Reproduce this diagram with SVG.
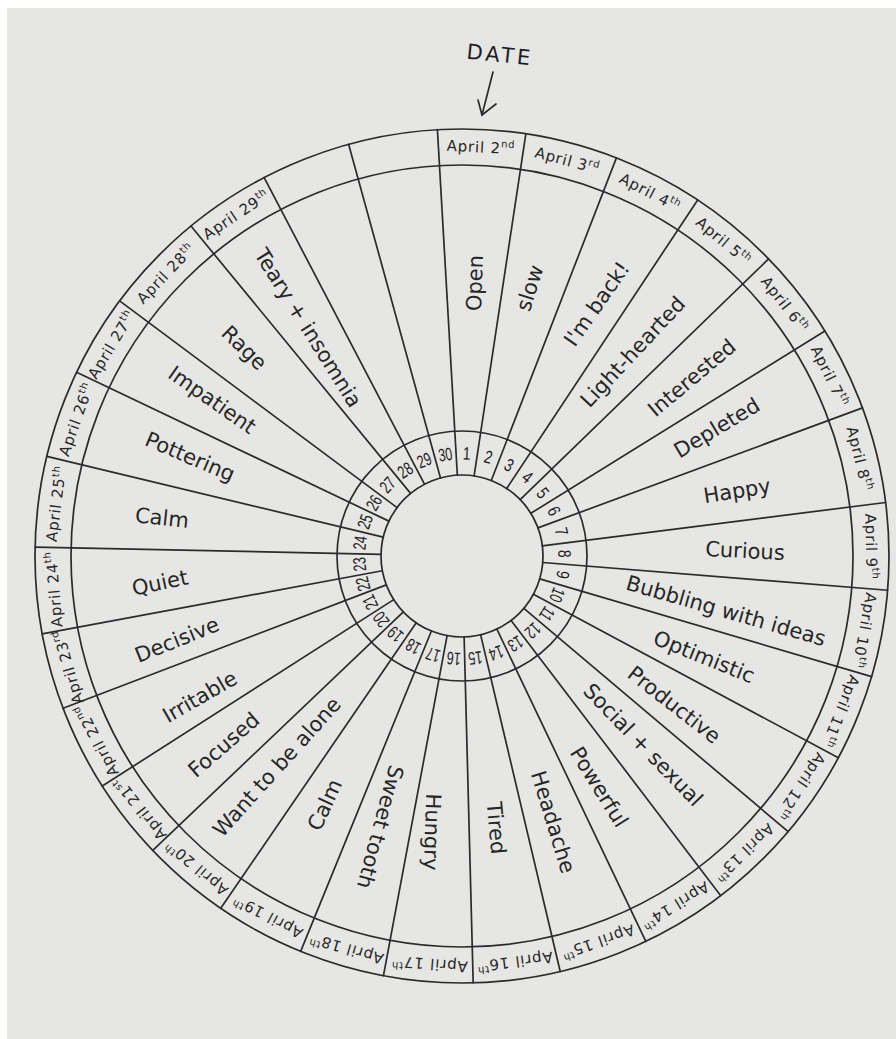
<svg xmlns="http://www.w3.org/2000/svg" width="896" height="1039" viewBox="0 0 896 1039">
<defs>
<style>
.ln{fill:none;stroke:#2b2b2b;stroke-width:1.7;stroke-linecap:round}
.mood{font-family:"DejaVu Sans",sans-serif;font-size:21px;fill:#262626;text-anchor:middle;dominant-baseline:central}
.date{font-family:"DejaVu Sans",sans-serif;font-size:15px;fill:#262626;text-anchor:middle;dominant-baseline:central;letter-spacing:0.8px}
.num{font-family:"Liberation Sans",sans-serif;font-size:18px;fill:#1e1e1e;text-anchor:middle;dominant-baseline:central}
.sup{font-size:10px}
.title{font-family:"DejaVu Sans",sans-serif;font-size:21px;fill:#1e1e1e;text-anchor:middle;dominant-baseline:central;letter-spacing:3px}
</style>
</defs>
<rect width="896" height="1039" fill="#ffffff"/>
<rect x="7" y="8" width="889" height="1031" fill="#e6e6e4"/>

<g id="date-pointer">
<text class="title" x="500" y="55" transform="rotate(6 500 55)">DATE</text>
<polyline class="ln" points="493,72 482,115"/>
<polyline class="ln" points="478,100 482,115 496,104"/>
</g>

<g id="rings" class="ln" transform="translate(462,556)">
<circle r="427"/>
<circle r="391"/>
<circle r="125"/>
<circle r="81"/>
</g>

<g id="connectors" class="ln" transform="translate(462,556)">
<line y1="-81" y2="-427" transform="rotate(356.7)"/>
<line y1="-81" y2="-427" transform="rotate(8.6)"/>
<line y1="-81" y2="-427" transform="rotate(21.2)"/>
<line y1="-81" y2="-427" transform="rotate(33.5)"/>
<line y1="-81" y2="-427" transform="rotate(45.9)"/>
<line y1="-81" y2="-427" transform="rotate(58.2)"/>
<line y1="-81" y2="-427" transform="rotate(69.7)"/>
<line y1="-81" y2="-427" transform="rotate(82.8)"/>
<line y1="-81" y2="-427" transform="rotate(94.6)"/>
<line y1="-81" y2="-427" transform="rotate(106.4)"/>
<line y1="-81" y2="-427" transform="rotate(118.2)"/>
<line y1="-81" y2="-427" transform="rotate(130.2)"/>
<line y1="-81" y2="-427" transform="rotate(142.7)"/>
<line y1="-81" y2="-427" transform="rotate(154.5)"/>
<line y1="-81" y2="-427" transform="rotate(166.7)"/>
<line y1="-81" y2="-427" transform="rotate(178.5)"/>
<line y1="-81" y2="-427" transform="rotate(190.6)"/>
<line y1="-81" y2="-427" transform="rotate(202.2)"/>
<line y1="-81" y2="-427" transform="rotate(214.4)"/>
<line y1="-81" y2="-427" transform="rotate(226.4)"/>
<line y1="-81" y2="-427" transform="rotate(237.4)"/>
<line y1="-81" y2="-427" transform="rotate(249.1)"/>
<line y1="-81" y2="-427" transform="rotate(259.5)"/>
<line y1="-81" y2="-427" transform="rotate(271.2)"/>
<line y1="-81" y2="-427" transform="rotate(283.5)"/>
<line y1="-81" y2="-427" transform="rotate(295.5)"/>
<line y1="-81" y2="-427" transform="rotate(306.7)"/>
<line y1="-81" y2="-427" transform="rotate(320.6)"/>
<line y1="-81" y2="-427" transform="rotate(332.4)"/>
<line y1="-81" y2="-427" transform="rotate(344.6)"/>
</g>

<g id="dates" transform="translate(462,556)">
<text class="date" y="-409" transform="rotate(2.65)">April 2<tspan class="sup" dy="-5">nd</tspan></text>
<text class="date" y="-409" transform="rotate(14.9)">April 3<tspan class="sup" dy="-5">rd</tspan></text>
<text class="date" y="-409" transform="rotate(27.35)">April 4<tspan class="sup" dy="-5">th</tspan></text>
<text class="date" y="-409" transform="rotate(39.7)">April 5<tspan class="sup" dy="-5">th</tspan></text>
<text class="date" y="-409" transform="rotate(52.05)">April 6<tspan class="sup" dy="-5">th</tspan></text>
<text class="date" y="-409" transform="rotate(63.95)">April 7<tspan class="sup" dy="-5">th</tspan></text>
<text class="date" y="-409" transform="rotate(76.25)">April 8<tspan class="sup" dy="-5">th</tspan></text>
<text class="date" y="-409" transform="rotate(88.7)">April 9<tspan class="sup" dy="-5">th</tspan></text>
<text class="date" y="-409" transform="rotate(100.5)">April 10<tspan class="sup" dy="-5">th</tspan></text>
<text class="date" y="-409" transform="rotate(112.3)">April 11<tspan class="sup" dy="-5">th</tspan></text>
<text class="date" y="-409" transform="rotate(124.2)">April 12<tspan class="sup" dy="-5">th</tspan></text>
<text class="date" y="-409" transform="rotate(136.45)">April 13<tspan class="sup" dy="-5">th</tspan></text>
<text class="date" y="-409" transform="rotate(148.6)">April 14<tspan class="sup" dy="-5">th</tspan></text>
<text class="date" y="-409" transform="rotate(160.6)">April 15<tspan class="sup" dy="-5">th</tspan></text>
<text class="date" y="-409" transform="rotate(172.6)">April 16<tspan class="sup" dy="-5">th</tspan></text>
<text class="date" y="-409" transform="rotate(184.55)">April 17<tspan class="sup" dy="-5">th</tspan></text>
<text class="date" y="-409" transform="rotate(196.4)">April 18<tspan class="sup" dy="-5">th</tspan></text>
<text class="date" y="-409" transform="rotate(208.3)">April 19<tspan class="sup" dy="-5">th</tspan></text>
<text class="date" y="-409" transform="rotate(220.4)">April 20<tspan class="sup" dy="-5">th</tspan></text>
<text class="date" y="-409" transform="rotate(231.9)">April 21<tspan class="sup" dy="-5">st</tspan></text>
<text class="date" y="-409" transform="rotate(243.25)">April 22<tspan class="sup" dy="-5">nd</tspan></text>
<text class="date" y="-409" transform="rotate(254.3)">April 23<tspan class="sup" dy="-5">rd</tspan></text>
<text class="date" y="-409" transform="rotate(265.35)">April 24<tspan class="sup" dy="-5">th</tspan></text>
<text class="date" y="-409" transform="rotate(277.35)">April 25<tspan class="sup" dy="-5">th</tspan></text>
<text class="date" y="-409" transform="rotate(289.5)">April 26<tspan class="sup" dy="-5">th</tspan></text>
<text class="date" y="-409" transform="rotate(301.1)">April 27<tspan class="sup" dy="-5">th</tspan></text>
<text class="date" y="-409" transform="rotate(313.65)">April 28<tspan class="sup" dy="-5">th</tspan></text>
<text class="date" y="-409" transform="rotate(326.5)">April 29<tspan class="sup" dy="-5">th</tspan></text>
</g>

<g id="days" transform="translate(462,556)">
<text class="num" transform="rotate(2.65) translate(0,-103) scale(0.78,1)">1</text>
<text class="num" transform="rotate(14.9) translate(0,-103) scale(0.78,1)">2</text>
<text class="num" transform="rotate(27.35) translate(0,-103) scale(0.78,1)">3</text>
<text class="num" transform="rotate(39.7) translate(0,-103) scale(0.78,1)">4</text>
<text class="num" transform="rotate(52.05) translate(0,-103) scale(0.78,1)">5</text>
<text class="num" transform="rotate(63.95) translate(0,-103) scale(0.78,1)">6</text>
<text class="num" transform="rotate(76.25) translate(0,-103) scale(0.78,1)">7</text>
<text class="num" transform="rotate(88.7) translate(0,-103) scale(0.78,1)">8</text>
<text class="num" transform="rotate(100.5) translate(0,-103) scale(0.78,1)">9</text>
<text class="num" transform="rotate(112.3) translate(0,-103) scale(0.7,1)">10</text>
<text class="num" transform="rotate(124.2) translate(0,-103) scale(0.7,1)">11</text>
<text class="num" transform="rotate(136.45) translate(0,-103) scale(0.7,1)">12</text>
<text class="num" transform="rotate(148.6) translate(0,-103) scale(0.7,1)">13</text>
<text class="num" transform="rotate(160.6) translate(0,-103) scale(0.7,1)">14</text>
<text class="num" transform="rotate(172.6) translate(0,-103) scale(0.7,1)">15</text>
<text class="num" transform="rotate(184.55) translate(0,-103) scale(0.7,1)">16</text>
<text class="num" transform="rotate(196.4) translate(0,-103) scale(0.7,1)">17</text>
<text class="num" transform="rotate(208.3) translate(0,-103) scale(0.7,1)">18</text>
<text class="num" transform="rotate(220.4) translate(0,-103) scale(0.7,1)">19</text>
<text class="num" transform="rotate(231.9) translate(0,-103) scale(0.7,1)">20</text>
<text class="num" transform="rotate(243.25) translate(0,-103) scale(0.7,1)">21</text>
<text class="num" transform="rotate(254.3) translate(0,-103) scale(0.7,1)">22</text>
<text class="num" transform="rotate(265.35) translate(0,-103) scale(0.7,1)">23</text>
<text class="num" transform="rotate(277.35) translate(0,-103) scale(0.7,1)">24</text>
<text class="num" transform="rotate(289.5) translate(0,-103) scale(0.7,1)">25</text>
<text class="num" transform="rotate(301.1) translate(0,-103) scale(0.7,1)">26</text>
<text class="num" transform="rotate(313.65) translate(0,-103) scale(0.7,1)">27</text>
<text class="num" transform="rotate(326.5) translate(0,-103) scale(0.7,1)">28</text>
<text class="num" transform="rotate(338.5) translate(0,-103) scale(0.7,1)">29</text>
<text class="num" transform="rotate(350.65) translate(0,-103) scale(0.7,1)">30</text>
</g>

<g id="moods">
<text class="mood" x="475" y="283" transform="rotate(-88 475 283)">Open</text>
<text class="mood" x="530" y="288" transform="rotate(-72 530 288)">slow</text>
<text class="mood" x="597" y="304" transform="rotate(-55 597 304)">I'm back!</text>
<text class="mood" x="633" y="352" transform="rotate(-47 633 352)">Light-hearted</text>
<text class="mood" x="692" y="378" transform="rotate(-40 692 378)">Interested</text>
<text class="mood" x="717" y="428" transform="rotate(-31 717 428)">Depleted</text>
<text class="mood" x="737" y="491" transform="rotate(-9 737 491)">Happy</text>
<text class="mood" x="745" y="551" transform="rotate(3 745 551)">Curious</text>
<text class="mood" x="726" y="611" transform="rotate(16 726 611)">Bubbling with ideas</text>
<text class="mood" x="704" y="657" transform="rotate(22 704 657)">Optimistic</text>
<text class="mood" x="674" y="705" transform="rotate(38 674 705)">Productive</text>
<text class="mood" x="643" y="745" transform="rotate(46 643 745)">Social + sexual</text>
<text class="mood" x="599" y="787" transform="rotate(58 599 787)">Powerful</text>
<text class="mood" x="553" y="822" transform="rotate(73 553 822)">Headache</text>
<text class="mood" x="496" y="828" transform="rotate(85 496 828)">Tired</text>
<text class="mood" x="432" y="832" transform="rotate(92 432 832)">Hungry</text>
<text class="mood" x="380" y="827" transform="rotate(105 380 827)">Sweet tooth</text>
<text class="mood" x="325" y="805" transform="rotate(-65 325 805)">Calm</text>
<text class="mood" x="277" y="767" transform="rotate(-48 277 767)">Want to be alone</text>
<text class="mood" x="224" y="745" transform="rotate(-41 224 745)">Focused</text>
<text class="mood" x="200" y="697" transform="rotate(-30 200 697)">Irritable</text>
<text class="mood" x="177" y="640" transform="rotate(-22 177 640)">Decisive</text>
<text class="mood" x="160" y="583" transform="rotate(-12 160 583)">Quiet</text>
<text class="mood" x="162" y="518" transform="rotate(6 162 518)">Calm</text>
<text class="mood" x="190" y="457" transform="rotate(23 190 457)">Pottering</text>
<text class="mood" x="212" y="400" transform="rotate(35 212 400)">Impatient</text>
<text class="mood" x="244" y="348" transform="rotate(44 244 348)">Rage</text>
<text class="mood" x="308" y="328" transform="rotate(58 308 328)">Teary + insomnia</text>
</g>
</svg>
